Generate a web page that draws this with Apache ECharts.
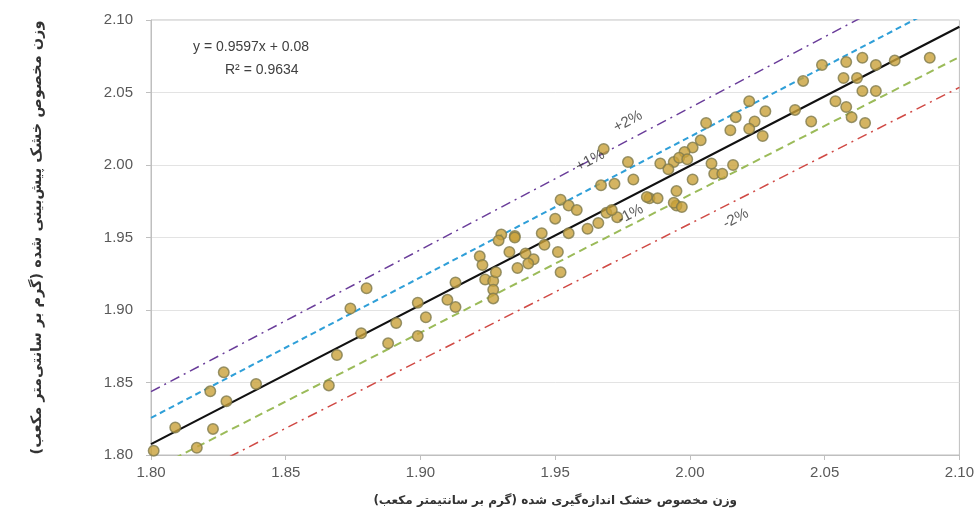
<!DOCTYPE html>
<html>
<head>
<meta charset="UTF-8">
<title>chart</title>
<style type="text/css">
  body{margin:0;padding:0;background:#fff;}
  #main{width:977px;height:525px;}
</style>
</head>
<body>
<div id="main"></div>
<script src="https://cdn.jsdelivr.net/npm/echarts@6/dist/echarts.min.js"></script>
<script>
// measured (x) and predicted (y) dry density, g/cm3
var measured = [1.801,1.809,1.827,1.822,1.828,1.839,1.823,1.817,1.866,1.869,
  1.880,1.874,1.878,1.891,1.899,1.888,1.899,1.902,1.910,1.913,
  1.913,1.922,1.923,1.924,1.927,1.927,1.927,1.928,1.930,1.929,
  1.935,1.933,1.936,1.968,1.977,1.989,1.994,1.979,1.972,1.967,
  1.952,1.955,1.958,1.950,1.962,1.955,1.945,1.966,1.969,1.985,
  1.988,1.995,1.995,1.935,1.946,1.951,1.939,1.942,1.940,1.952,
  1.973,1.971,2.049,2.042,2.054,2.045,2.022,2.028,2.017,2.024,
  2.022,2.027,2.015,2.006,2.004,2.001,1.998,1.996,1.999,2.008,
  2.016,2.009,2.012,2.001,1.992,1.984,1.994,1.997,2.058,2.064,
  2.069,2.076,2.089,2.057,2.062,2.064,2.069,2.058,2.060,2.065,2.039];
var predicted = [1.803,1.819,1.857,1.844,1.837,1.849,1.818,1.805,1.848,1.869,
  1.915,1.901,1.884,1.891,1.905,1.877,1.882,1.895,1.907,1.902,
  1.919,1.937,1.931,1.921,1.920,1.914,1.908,1.926,1.952,1.948,
  1.951,1.940,1.929,2.011,2.002,2.001,2.002,1.990,1.987,1.986,
  1.976,1.972,1.969,1.963,1.956,1.953,1.953,1.960,1.967,1.977,
  1.977,1.982,1.972,1.950,1.945,1.940,1.939,1.935,1.932,1.926,
  1.964,1.969,2.069,2.058,2.044,2.030,2.044,2.037,2.033,2.030,
  2.025,2.020,2.024,2.029,2.017,2.012,2.009,2.005,2.004,2.001,
  2.000,1.994,1.994,1.990,1.997,1.978,1.974,1.971,2.071,2.074,
  2.069,2.072,2.074,2.060,2.060,2.051,2.051,2.040,2.033,2.029,2.038];

// line end points at x = 1.80 and x = 2.10
var lineX = [1.80, 2.10];
var fitY = [1.8075, 2.0954];     // y = 0.9597x + 0.08
var plus1Y = [1.8256, 2.1164];
var plus2Y = [1.8437, 2.1373];
var minus1Y = [1.7894, 2.0745];
var minus2Y = [1.7714, 2.0535];

var bandNames = ['+2%', '+1%', '-1%', '-2%'];
var bandLabelX = [1.977, 1.963, 1.978, 2.017];
var bandLabelY = [2.030, 2.003, 1.966, 1.963];

function pairs(xs, ys){
  var out = [];
  for(var i=0;i<xs.length;i++){ out.push([xs[i], ys[i]]); }
  return out;
}

var chart = echarts.init(document.getElementById('main'));
var axisFont = {color:'#595959', fontSize:15, fontFamily:'Liberation Sans'};

function refLine(ys, color, dash, width){
  return {
    type:'line', data:pairs(lineX, ys), symbol:'none', clip:true, silent:true,
    lineStyle:{color:color, width:width, type:dash}, z:3
  };
}

chart.setOption({
  animation:false,
  backgroundColor:'#fff',
  grid:{left:151, right:17, top:20, bottom:70, show:true, borderColor:'#bfbfbf', borderWidth:1},
  xAxis:{
    type:'value', min:1.80, max:2.10, interval:0.05,
    name:'وزن مخصوص خشک اندازه‌گیری شده (گرم بر سانتیمتر مکعب)',
    nameLocation:'middle', nameGap:40,
    nameTextStyle:{color:'#333', fontSize:12, fontWeight:'bold', fontFamily:'DejaVu Sans'},
    axisLine:{show:true, lineStyle:{color:'#bfbfbf'}},
    axisTick:{show:true, length:5, lineStyle:{color:'#bfbfbf'}},
    axisLabel:Object.assign({margin:10, formatter:function(v){return v.toFixed(2);}}, axisFont),
    splitLine:{show:false}
  },
  yAxis:{
    type:'value', min:1.80, max:2.10, interval:0.05,
    name:'وزن مخصوص خشک پیش‌بینی شده (گرم بر سانتی‌متر مکعب)',
    nameLocation:'middle', nameGap:106, nameRotate:90,
    nameTextStyle:{color:'#333', fontSize:14.5, fontWeight:'bold', fontFamily:'DejaVu Sans'},
    axisLine:{show:true, lineStyle:{color:'#bfbfbf'}},
    axisTick:{show:true, length:5, lineStyle:{color:'#bfbfbf'}},
    axisLabel:Object.assign({margin:18, formatter:function(v){return v.toFixed(2);}}, axisFont),
    splitLine:{show:true, lineStyle:{color:'#e3e3e3'}}
  },
  graphic:[
    {type:'text', left:193, top:40, style:{text:'y = 0.9597x + 0.08', fill:'#404040', font:'14px Liberation Sans'}},
    {type:'text', left:225, top:63, style:{text:'R² = 0.9634', fill:'#404040', font:'14px Liberation Sans'}}
  ],
  series:[
    refLine(plus2Y, '#6a3d9a', [10,5,2,5], 1.5),
    refLine(plus1Y, '#2f9fd8', [6,4], 2),
    refLine(minus1Y, '#9bbb59', [8,5], 2),
    refLine(minus2Y, '#d04a45', [10,5,2,5], 1.5),
    {
      type:'scatter', data:pairs(measured, predicted), symbolSize:10.5, z:4,
      itemStyle:{color:'#c9a13a', borderColor:'#7f7a4c', borderWidth:1.5}
    },
    refLine(fitY, '#111', 'solid', 2.2),
    {
      type:'scatter', symbolSize:0, z:6, silent:true,
      data:bandNames.map(function(n,i){ return {name:n, value:[bandLabelX[i], bandLabelY[i]]}; }),
      label:{show:true, position:'inside', rotate:28, formatter:'{b}', color:'#333',
        fontSize:15, fontFamily:'Liberation Sans'}
    }
  ]
});
</script>
</body>
</html>
